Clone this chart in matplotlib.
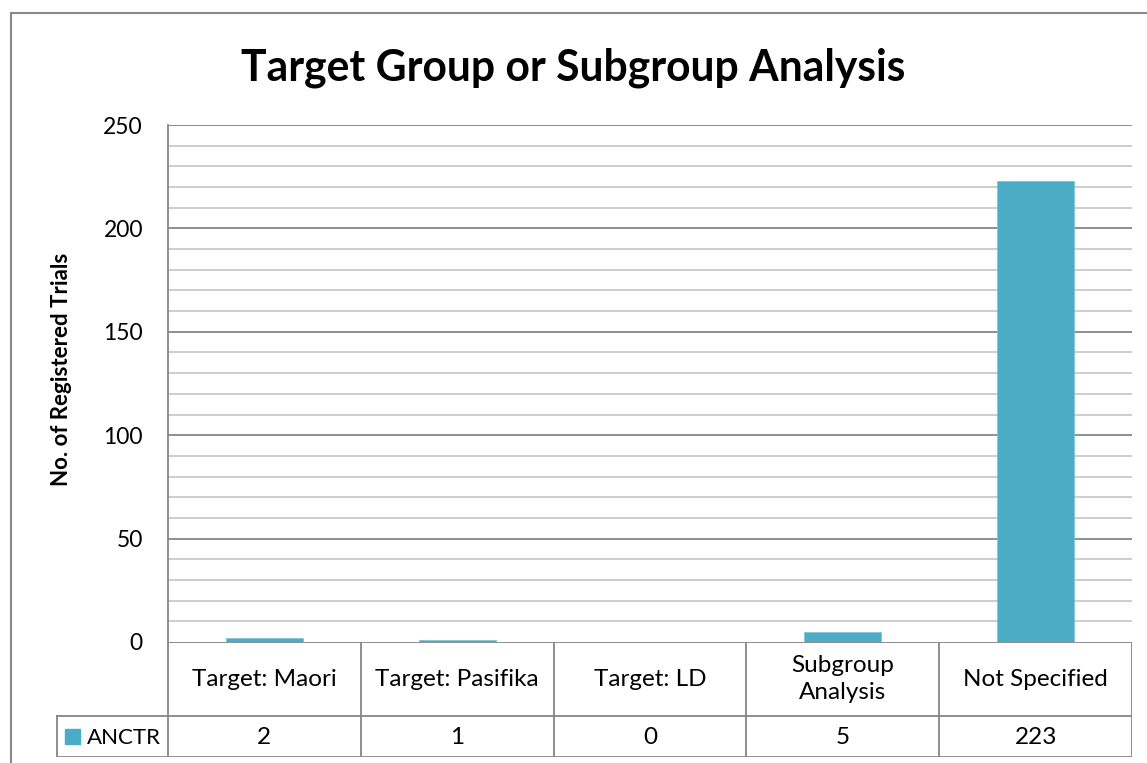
import matplotlib
matplotlib.use("Agg")
import matplotlib.pyplot as plt
from matplotlib.patches import Rectangle
from matplotlib.lines import Line2D

categories = ["Target: Maori", "Target: Pasifika", "Target: LD", "Subgroup\nAnalysis", "Not Specified"]
series_name = "ANCTR"
values = [2, 1, 0, 5, 223]
yticks = [0, 50, 100, 150, 200, 250]

W, H = 1147, 763
DPI = 100
plt.rcParams['font.family'] = ['Lato', 'DejaVu Sans']

fig = plt.figure(figsize=(W / DPI, H / DPI), dpi=DPI)
fig.patch.set_facecolor('white')

def fx(px):
    return px / W

def fy(py):
    return 1 - py / H

# plot area in pixels
L, T, R, B = 168, 125, 1132, 642
ax = fig.add_axes([fx(L), fy(B), fx(R - L), (B - T) / H])

bar_color = '#4BACC6'
major_c = '#868686'
minor_c = '#C0C0C0'
border_c = '#868686'

x = list(range(len(categories)))
ax.bar(x, values, width=0.4, color=bar_color, edgecolor='#7FC4D6', linewidth=0.6, zorder=3)
ax.set_xlim(-0.5, len(categories) - 0.5)
ax.set_ylim(0, 250)

for v in range(10, 251, 10):
    if v % 50 == 0:
        ax.axhline(v, color=major_c, lw=1.3, zorder=1)
    else:
        ax.axhline(v, color=minor_c, lw=1.1, zorder=1)

ax.set_yticks(yticks)
ax.set_yticklabels([str(t) for t in yticks], fontsize=16.5)
ax.tick_params(axis='y', length=0, pad=18)
ax.set_xticks([])
for s in ['top', 'right', 'bottom']:
    ax.spines[s].set_visible(False)
ax.spines['left'].set_color(major_c)
ax.spines['left'].set_linewidth(1.3)

fig.text(fx(61), fy(369), "No. of Registered Trials", ha='center', va='center',
         rotation=90, fontsize=16, fontweight='bold')

fig.text(fx(573), fy(80), "Target Group or Subgroup Analysis", ha='center', va='baseline',
         fontsize=30.7, fontweight='bold')

# data table in a separate axes with pixel coordinates
TL, TT, TR, TB = 56, 642, 1132, 757
tax = fig.add_axes([fx(TL), fy(TB), fx(TR - TL), (TB - TT) / H])
tax.set_xlim(TL, TR)
tax.set_ylim(TB, TT)
tax.axis('off')
colw = (R - L) / len(categories)
row1 = 716
lw = 1.3
tfs = 17.5
# horizontal lines
tax.add_line(Line2D([L, R], [TT, TT], color=border_c, lw=lw))
tax.add_line(Line2D([TL, R], [row1, row1], color=border_c, lw=lw))
tax.add_line(Line2D([TL, R], [TB - 0.5, TB - 0.5], color=border_c, lw=lw))
# vertical lines
for i in range(len(categories) + 1):
    xx = L + i * colw
    tax.add_line(Line2D([xx, xx], [TT, TB], color=border_c, lw=lw))
tax.add_line(Line2D([TL + 0.5, TL + 0.5], [row1, TB], color=border_c, lw=lw))

for i, (c, v) in enumerate(zip(categories, values)):
    cx = L + (i + 0.5) * colw
    tax.text(cx, (TT + row1) / 2, c, ha='center', va='center', fontsize=tfs, linespacing=1.4)
    tax.text(cx, (row1 + TB) / 2 + 1, str(v), ha='center', va='center', fontsize=tfs)

tax.add_patch(Rectangle((65, 729), 15, 15, color=bar_color))
tax.text(87, (row1 + TB) / 2 + 1, series_name, ha='left', va='center', fontsize=16)

# outer frame
fig.add_artist(Rectangle((fx(11), fy(H + 20)), fx(W + 20), (H + 20 - 13) / H,
                         transform=fig.transFigure, fill=False, edgecolor='#898989', lw=1.5))

fig.savefig("out.png", dpi=DPI, facecolor='white')
